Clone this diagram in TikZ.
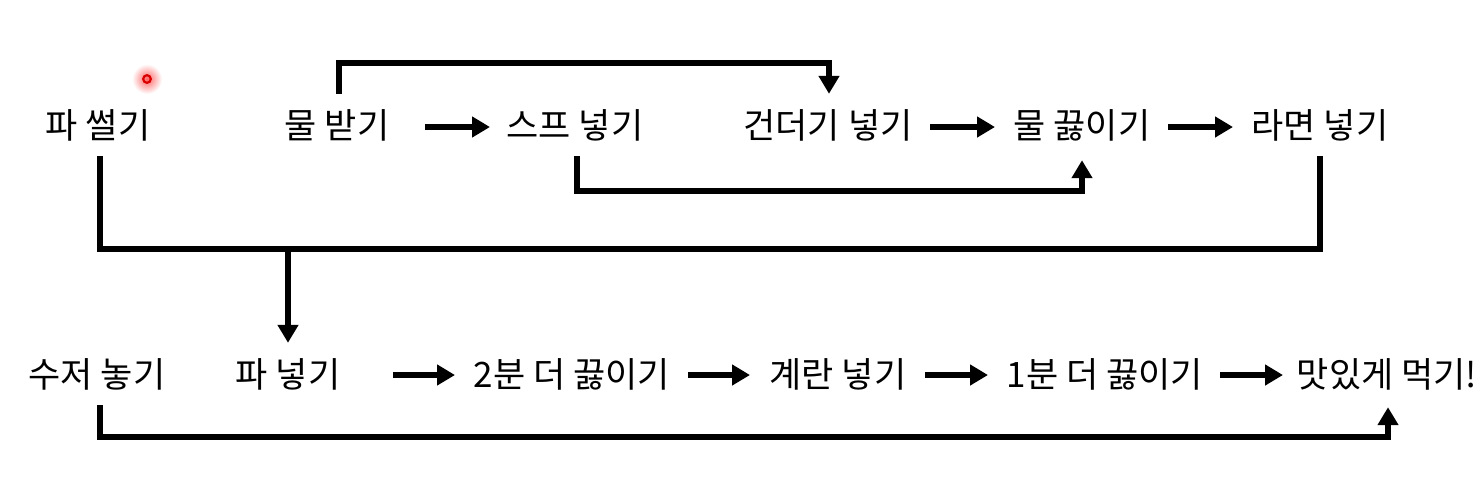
\documentclass[tikz,border=0pt]{standalone}
\usepackage{fontspec}
\setmainfont{Noto Sans CJK KR}
\usetikzlibrary{arrows.meta,calc}
\begin{document}
\begin{tikzpicture}[x=1pt,y=-1pt,
  lbl/.style={inner sep=0pt,minimum height=62pt,font=\fontsize{35}{35}\selectfont},
  conn/.style={line width=6pt,black},
  arr/.style={conn,-{Triangle[length=18pt,width=20pt]}}]
\useasboundingbox (0,0) rectangle (1482,480);
% red dot
\shade[inner color=red!60,outer color=white] (147,79) circle (15);
\draw[red!85!black,line width=2.2pt] (147,79) circle (3.8);
% row 1
\node[lbl] (passeol) at (98,125) {파 썰기};
\node[lbl] (mulbat) at (337,125) {물 받기};
\node[lbl] (sup) at (575,125) {스프 넣기};
\node[lbl] (gun) at (828,125) {건더기 넣기};
\node[lbl] (mulkk) at (1082,125) {물 끓이기};
\node[lbl] (ramyeon) at (1320,125) {라면 넣기};
% row 2
\node[lbl] (sujeo) at (97,374) {수저 놓기};
\node[lbl] (paneo) at (288,374) {파 넣기};
\node[lbl] (two) at (572,374) {2분 더 끓이기};
\node[lbl] (egg) at (838,374) {계란 넣기};
\node[lbl] (one) at (1105,374) {1분 더 끓이기};
\node[lbl] (masit) at (1387,374) {맛있게 먹기!};
% horizontal arrows row 1
\draw[arr] ([xshift=88pt,yshift=-2pt]mulbat.center) -- ([xshift=-85pt,yshift=-2pt]sup.center);
\draw[arr] ([xshift=102pt,yshift=-2pt]gun.center) -- ([xshift=-87pt,yshift=-2pt]mulkk.center);
\draw[arr] ([xshift=86pt,yshift=-2pt]mulkk.center) -- ([xshift=-87pt,yshift=-2pt]ramyeon.center);
% horizontal arrows row 2
\draw[arr] ([xshift=105pt,yshift=-1pt]paneo.center) -- ([xshift=-117pt,yshift=-1pt]two.center);
\draw[arr] ([xshift=116pt,yshift=-1pt]two.center) -- ([xshift=-88pt,yshift=-1pt]egg.center);
\draw[arr] ([xshift=87pt,yshift=-1pt]egg.center) -- ([xshift=-117pt,yshift=-1pt]one.center);
\draw[arr] ([xshift=115pt,yshift=-1pt]one.center) -- ([xshift=-104pt,yshift=-1pt]masit.center);
% bracket connectors
\draw[arr] ([xshift=2pt]mulbat.north) -- ++(0,-31) -| ([xshift=1pt]gun.north);
\draw[arr,shorten >=4pt] ([xshift=2pt]sup.south) -- ++(0,35) -| (mulkk.south);
\draw[conn] ([xshift=2pt]passeol.south) -- ++(0,93) -| (ramyeon.south);
\path ([xshift=2pt]passeol.south) ++(0,93) coordinate (jy);
\draw[arr] (paneo.north |- jy) -- (paneo.north);
\draw[arr,shorten >=2pt] ([xshift=3pt]sujeo.south) -- ++(0,32) -| ([xshift=1pt]masit.south);
\end{tikzpicture}
\end{document}
